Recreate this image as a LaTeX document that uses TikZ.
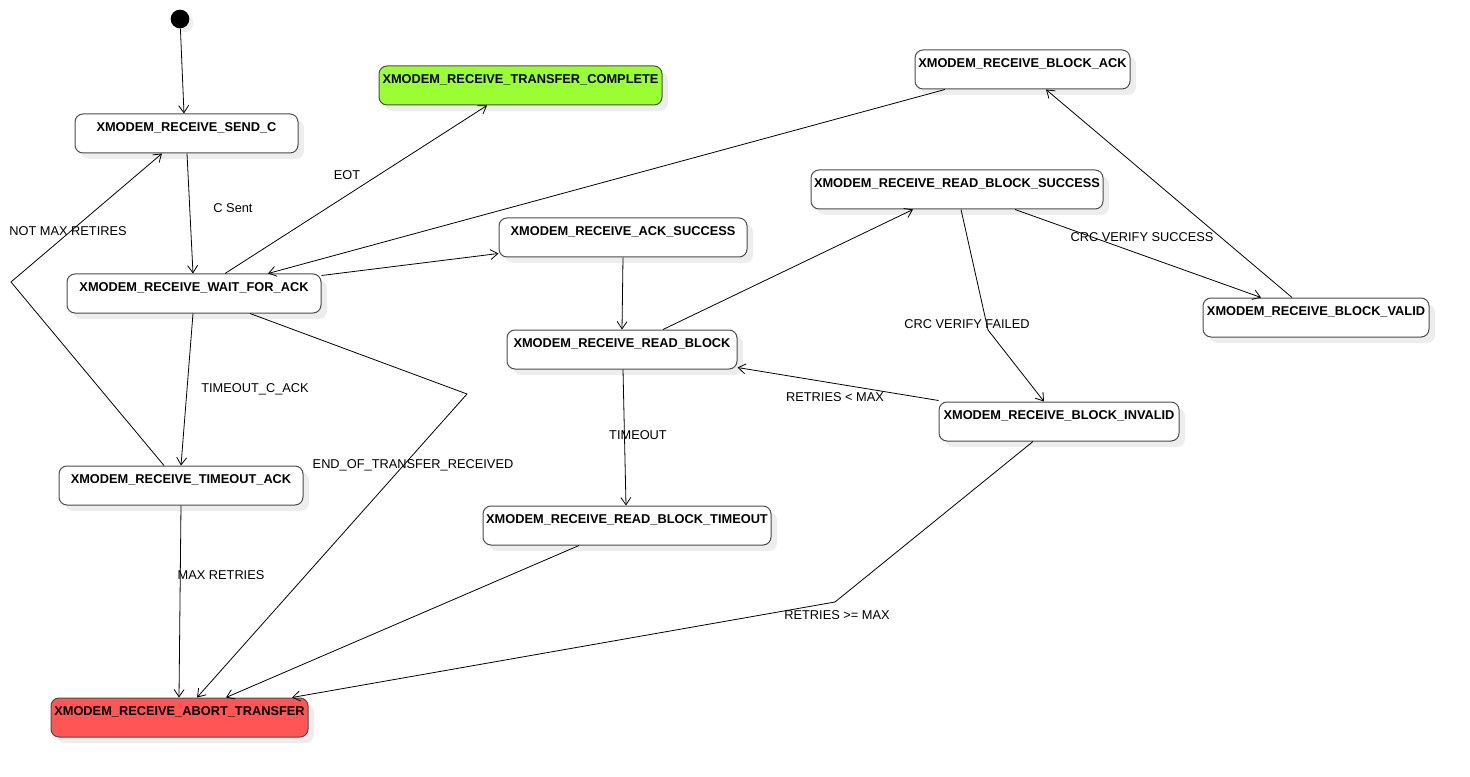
\documentclass[tikz,border=0pt]{standalone}
\usepackage{fontspec}
\setmainfont{Liberation Sans}
\usepackage{tikz}
\usetikzlibrary{arrows.meta,calc,shadows}

\definecolor{donegreen}{HTML}{99FF33}
\definecolor{abortred}{HTML}{FF5555}

\tikzset{
  state/.style={draw=black!70, line width=0.75pt, rounded corners=6pt,
    fill=white, font=\fontsize{9.6}{11}\selectfont\bfseries,
    minimum width=#1*0.75pt, minimum height=29.25pt,
    inner xsep=0pt, inner ysep=0pt, text height=13pt, text depth=16.25pt,
    drop shadow={shadow xshift=4.5pt, shadow yshift=-4.5pt, fill=black!7, opacity=1}},
  startdot/.style={circle, fill=black, inner sep=0pt, minimum size=14pt,
    drop shadow={shadow xshift=3pt, shadow yshift=-3pt, fill=black!7, opacity=1}},
  transition/.style={draw, line width=0.6pt,
    -{Straight Barb[length=5.5pt,width=7.5pt]}},
  lbl/.style={inner sep=0pt, font=\fontsize{9.6}{11}\selectfont}
}

\begin{document}
\begin{tikzpicture}[x=0.75pt,y=-0.75pt]
    \useasboundingbox (0,0) rectangle (1470,777);

    % States
    \node[startdot] (start) at (180,19) {};
    \node[state=223] (sendc) at (186.5,133.5) {XMODEM\_RECEIVE\_SEND\_C};
    \node[state=283, fill=donegreen] (complete) at (520.5,85.5) {XMODEM\_RECEIVE\_TRANSFER\_COMPLETE};
    \node[state=215] (blockack) at (1022.5,69.5) {XMODEM\_RECEIVE\_BLOCK\_ACK};
    \node[state=292] (readsucc) at (957,189.5) {XMODEM\_RECEIVE\_READ\_BLOCK\_SUCCESS};
    \node[state=248] (acksucc) at (623,237.5) {XMODEM\_RECEIVE\_ACK\_SUCCESS};
    \node[state=254] (waitack) at (194,293.5) {XMODEM\_RECEIVE\_WAIT\_FOR\_ACK};
    \node[state=226] (blockvalid) at (1316,317.5) {XMODEM\_RECEIVE\_BLOCK\_VALID};
    \node[state=230] (readblock) at (622,349.5) {XMODEM\_RECEIVE\_READ\_BLOCK};
    \node[state=240] (blockinvalid) at (1059,421.5) {XMODEM\_RECEIVE\_BLOCK\_INVALID};
    \node[state=244] (timeoutack) at (181,485.5) {XMODEM\_RECEIVE\_TIMEOUT\_ACK};
    \node[state=288] (readtimeout) at (627,525.5) {XMODEM\_RECEIVE\_READ\_BLOCK\_TIMEOUT};
    \node[state=257, fill=abortred] (abort) at (179.5,717.5) {XMODEM\_RECEIVE\_ABORT\_TRANSFER};

    % Bend points
    \coordinate (failbend) at (988,330);
    \coordinate (maxbend) at (835,602);
    \coordinate (eotbend) at (467,394);
    \coordinate (retrybend) at (11,282);

    % Transitions
    \draw[transition] (start) -- ($(sendc.north)+(-2.5,0)$);
    \draw[transition] ($(sendc.south)+(0.5,0)$) -- ($(waitack.north)+(-1,0)$)
      node[lbl] at (233,208) {C Sent};
    \draw[transition] ($(waitack.north)+(31,0)$) -- ($(complete.south)+(-33.5,0)$)
      node[lbl] at (347,175) {EOT};
    \draw[transition] ($(blockack.south)+(-77.5,0)$) -- ($(waitack.north)+(74,0)$);
    \draw[transition] ($(waitack.north east)+(0,2)$) -- ($(acksucc.south west)+(0,-4)$);
    \draw[transition] (acksucc.south) -- (readblock.north);
    \draw[transition] ($(readblock.north)+(41,0)$) -- ($(readsucc.south)+(-44,0)$);
    \draw[transition] ($(readsucc.south)+(58,0)$) -- ($(blockvalid.north)+(-55,0)$)
      node[lbl] at (1142,237) {CRC VERIFY SUCCESS};
    \draw[transition] ($(blockvalid.north)+(-24,0)$) -- ($(blockack.south)+(23.5,0)$);
    \draw[transition] ($(readsucc.south)+(4,0)$) -- (failbend) -- ($(blockinvalid.north)+(-15,0)$)
      node[lbl] at (967,324) {CRC VERIFY FAILED};
    \draw[transition] ($(blockinvalid.north west)+(0,-1)$) -- ($(readblock.south east)+(0,-2)$)
      node[lbl] at (835,397) {RETRIES < MAX};
    \draw[transition] ($(blockinvalid.south)+(-26,0)$) -- (maxbend) -- ($(abort.north)+(112.5,0)$)
      node[lbl] at (837,615) {RETRIES >= MAX};
    \draw[transition] ($(readblock.south)+(1,0)$) -- ($(readtimeout.north)+(-1,0)$)
      node[lbl] at (638,435) {TIMEOUT};
    \draw[transition] ($(readtimeout.south)+(-48,0)$) -- ($(abort.north)+(46.5,0)$);
    \draw[transition] ($(waitack.south)+(-1,0)$) -- (timeoutack.north)
      node[lbl] at (255,389) {TIMEOUT\_C\_ACK};
    \draw[transition] ($(waitack.south)+(56,0)$) -- (eotbend) -- ($(abort.north)+(17.5,0)$)
      node[lbl] at (413,465) {END\_OF\_TRANSFER\_RECEIVED};
    \draw[transition] ($(timeoutack.north)+(-17,0)$) -- (retrybend) -- ($(sendc.south)+(-24.5,0)$)
      node[lbl] at (68,231) {NOT MAX RETIRES};
    \draw[transition] (timeoutack.south) -- ($(abort.north)+(-0.5,0)$)
      node[lbl] at (221,575) {MAX RETRIES};
\end{tikzpicture}
\end{document}
